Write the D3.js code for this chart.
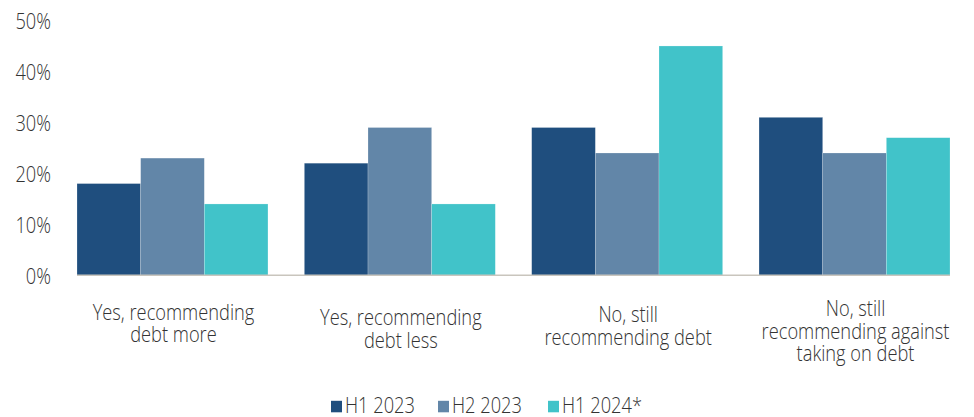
<!DOCTYPE html>
<html>
<head>
<meta charset="utf-8">
<script src="https://cdn.jsdelivr.net/npm/d3@7"></script>
<style>
  html, body { margin: 0; padding: 0; background: #fff; }
  svg { display: block; }
  text { font-family: "Open Sans", sans-serif; font-weight: 300; fill: #333; }
</style>
</head>
<body>
<svg id="chart" width="974" height="417"></svg>
<script>
const categories = [
  ["Yes, recommending", "debt more"],
  ["Yes, recommending", "debt less"],
  ["No, still", "recommending debt"],
  ["No, still", "recommending against", "taking on debt"]
];
const seriesNames = ["H1 2023", "H2 2023", "H1 2024*"];
const seriesColors = ["#1f4e7e", "#6286a8", "#41c3c9"];
const h1_2023 = [18, 22, 29, 31];
const h2_2023 = [23, 29, 24, 24];
const h1_2024 = [14, 14, 45, 27];
const yTicks = [0, 10, 20, 30, 40, 50];

// layout: baseline of the first line of each category label
const labelBaseline = [319.5, 325, 322, 316];
const legendX = [331, 438, 548];
// horizontal squeeze that gives the light face a semi-condensed look
const narrow = 0.83;

const seriesValues = [h1_2023, h2_2023, h1_2024];
const svg = d3.select("#chart");

const x0 = d3.scaleBand().domain(d3.range(categories.length)).range([77, 950]).paddingInner(0.16).paddingOuter(0);
const x1 = d3.scaleBand().domain(d3.range(seriesNames.length)).range([0, x0.bandwidth()]);
const y = d3.scaleLinear().domain([0, 50]).range([275.3, 20.5]);

// y axis labels
const yAxis = d3.axisLeft(y).tickValues(yTicks).tickFormat(d => d + "%").tickSize(0).tickPadding(0);
const ya = svg.append("g").attr("transform", "translate(51,0)").call(yAxis);
ya.select(".domain").remove();
ya.attr("font-family", null).attr("font-size", null);
ya.selectAll("text").style("font-size", "22px").attr("fill", "#333").attr("dy", "0.36em")
  .attr("transform", `scale(${narrow},1)`);

// bars
const groups = svg.append("g").selectAll("g").data(categories).join("g")
  .attr("transform", (d, i) => `translate(${x0(i)},0)`);
groups.selectAll("rect")
  .data((d, i) => seriesValues.map((s, k) => ({ k, v: s[i] })))
  .join("rect")
  .attr("x", d => x1(d.k))
  .attr("width", x1.bandwidth())
  .attr("y", d => y(d.v))
  .attr("height", d => y(0) - y(d.v))
  .attr("fill", d => seriesColors[d.k])
  .attr("stroke", "rgba(255,255,255,0.35)")
  .attr("stroke-width", 0.6);

// baseline
svg.append("line").attr("x1", 77).attr("x2", 950).attr("y1", y(0)).attr("y2", y(0))
  .attr("stroke", "#c9c5bd").attr("stroke-width", 1.5);

// category labels
const labels = svg.append("g").selectAll("text").data(categories).join("text")
  .attr("text-anchor", "middle")
  .attr("transform", (d, i) => `translate(${x0(i) + x0.bandwidth() / 2 + 1},${labelBaseline[i]}) scale(${narrow},1)`)
  .style("font-size", "22px");
labels.selectAll("tspan").data(d => d).join("tspan")
  .attr("x", 0)
  .attr("dy", (d, i) => i === 0 ? 0 : 22.7)
  .text(d => d);

// legend
const lg = svg.append("g").selectAll("g").data(seriesNames).join("g")
  .attr("transform", (d, i) => `translate(${legendX[i]},0)`);
lg.append("rect").attr("width", 11).attr("height", 11.5).attr("y", 400.8).attr("fill", (d, i) => seriesColors[i]);
lg.append("text").attr("transform", `translate(14,412.7) scale(${narrow},1)`).style("font-size", "22px").text(d => d);
</script>
</body>
</html>
